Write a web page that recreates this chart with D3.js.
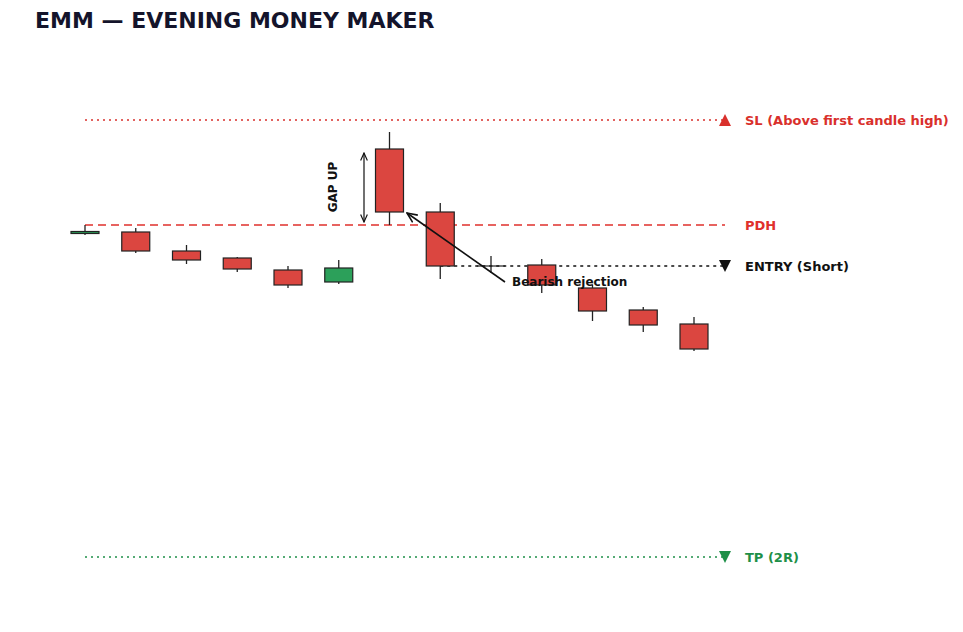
<!DOCTYPE html><html><head><meta charset="utf-8"><script src="https://cdn.jsdelivr.net/npm/d3@7"></script>
<style>body{margin:0;background:#fff}text{font-family:"DejaVu Sans",sans-serif}</style></head><body><svg id="c" width="963" height="632"></svg><script>
const idx=[0,1,2,3,4,5,6,7,8,9,10,11,12];
const opens =[36.65,36.8,34.9,34.2,33.0,31.8,45.1,38.8,33.4,33.5,31.2,29.0,27.6];
const closes=[36.85,34.9,34.0,33.1,31.5,33.2,38.8,33.4,33.4,31.5,28.9,27.5,25.1];
const highs =[37.5,37.2,35.5,34.3,33.4,34.0,46.8,39.7,34.4,34.1,31.5,29.3,28.3];
const lows  =[36.5,34.7,33.6,32.8,31.2,31.6,37.5,32.1,32.7,30.7,27.9,26.8,24.9];
const levels=[{name:"SL (Above first candle high)",v:48.0,c:"#d9302c",dash:"2,4",mark:"up"},
{name:"PDH",v:37.5,c:"#e0302c",dash:"8,5",mark:null},
{name:"ENTRY (Short)",v:33.4,c:"#111",dash:"3,4",mark:"down"},
{name:"TP (2R)",v:4.3,c:"#1e9048",dash:"2,4",mark:"down"}];
const svg=d3.select("#c");
const x=d3.scaleLinear().domain([0,12]).range([85,694]);
const y=d3.scaleLinear().domain([0,60]).range([600,0]);
svg.append("text").attr("x",35).attr("y",28).attr("font-size",22).attr("font-weight","bold").attr("fill","#14142b").text("EMM — EVENING MONEY MAKER");
levels.forEach((l,i)=>{
 const x0=(i==2)?x(7):x(0);
 svg.append("line").attr("x1",x0).attr("x2",725).attr("y1",y(l.v)).attr("y2",y(l.v)).attr("stroke",l.c).attr("stroke-width",1.6).attr("stroke-dasharray",l.dash);
 if(l.mark){const yy=y(l.v);const p=l.mark=="up"?`M719,${yy+6}L731,${yy+6}L725,${yy-6}Z`:`M719,${yy-6}L731,${yy-6}L725,${yy+6}Z`;
 svg.append("path").attr("d",p).attr("fill",l.c);}
 svg.append("text").attr("x",745).attr("y",y(l.v)+5).attr("font-size",13).attr("font-weight","bold").attr("fill",l.c).text(l.name);
});
const g=svg.append("g");
idx.forEach(i=>{
 const up=closes[i]>opens[i];
 g.append("line").attr("x1",x(i)).attr("x2",x(i)).attr("y1",y(highs[i])).attr("y2",y(lows[i])).attr("stroke","#222").attr("stroke-width",1.3);
 const top=y(Math.max(opens[i],closes[i])),bot=y(Math.min(opens[i],closes[i]));
 if(bot-top>0.5) g.append("rect").attr("x",x(i)-14).attr("width",28).attr("y",top).attr("height",bot-top).attr("fill",up?"#2ca05a":"#db4640").attr("stroke","#222").attr("stroke-width",1.2);
 else g.append("line").attr("x1",x(i)-14).attr("x2",x(i)+14).attr("y1",top).attr("y2",top).attr("stroke","#222").attr("stroke-width",1.2);
});
const defs=svg.append("defs");
defs.append("marker").attr("id","ah").attr("viewBox","0 0 10 10").attr("refX",9).attr("refY",5).attr("markerWidth",7).attr("markerHeight",7).attr("orient","auto-start-reverse").append("path").attr("d","M0,1L9,5L0,9").attr("fill","none").attr("stroke","#111").attr("stroke-width",1.4);
svg.append("line").attr("x1",364).attr("x2",364).attr("y1",y(44.7)).attr("y2",y(37.8)).attr("stroke","#111").attr("stroke-width",1.2).attr("marker-start","url(#ah)").attr("marker-end","url(#ah)");
svg.append("text").attr("transform",`translate(337,${y(41.3)}) rotate(-90)`).attr("text-anchor","middle").attr("font-size",12).attr("font-weight","bold").attr("fill","#111").text("GAP UP");
svg.append("line").attr("x1",505).attr("y1",y(31.8)).attr("x2",407).attr("y2",y(38.7)).attr("stroke","#111").attr("stroke-width",1.6).attr("marker-end","url(#ah)");
svg.append("text").attr("x",512).attr("y",y(31.8)+4).attr("font-size",12).attr("font-weight","bold").attr("fill","#111").text("Bearish rejection");
</script></body></html>
